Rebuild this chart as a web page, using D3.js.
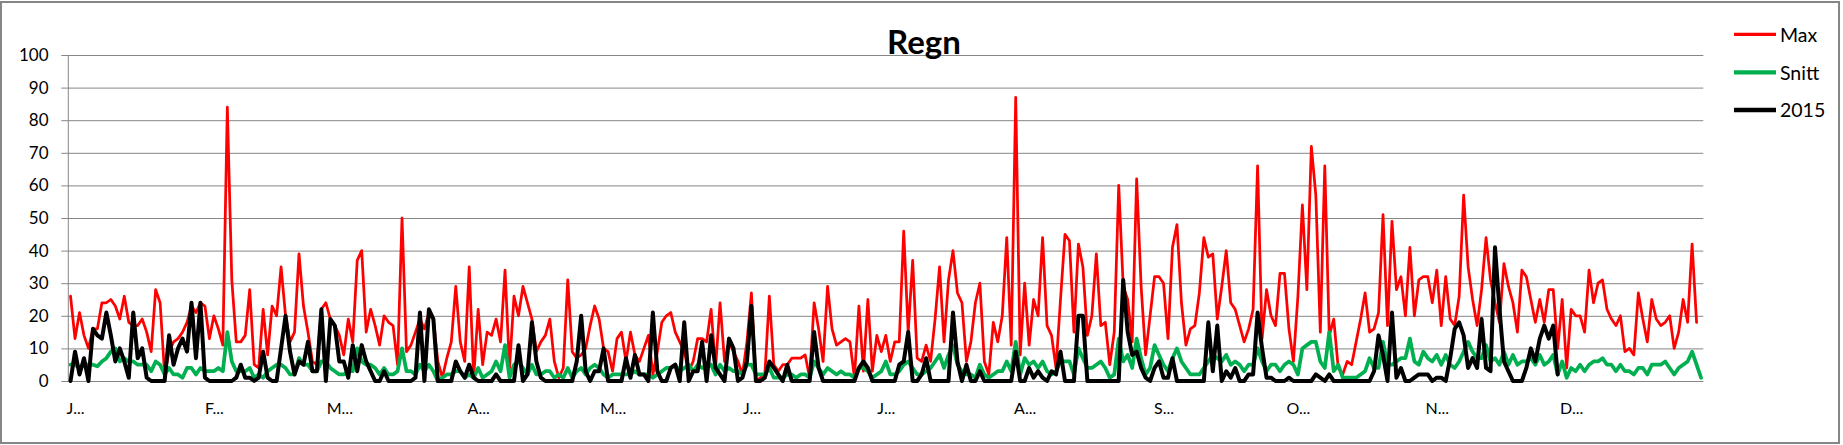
<!DOCTYPE html>
<html><head><meta charset="utf-8">
<script src="https://cdn.jsdelivr.net/npm/d3@7"></script>
<style>
html,body{margin:0;padding:0;background:#fff;}
svg{display:block;font-family:Lato,"Open Sans",sans-serif;}
</style>
</head><body>
<svg id="chart" width="1843" height="445"></svg>
<script>
const chartTitle = "Regn";
const seriesNames = ["Max", "Snitt", "2015"];
const seriesColors = ["#FF0000", "#00B050", "#000000"];
const monthLabels = ["J...","F...","M...","A...","M...","J...","J...","A...","S...","O...","N...","D..."];
const monthStarts = [0,31,59,90,120,151,181,212,243,273,304,334];
const yTicks = [0,10,20,30,40,50,60,70,80,90,100];

const maxValues = [
26,13,21,14,10,16,16,24,24,25, 23,19,26,18,17,17,19,15,9,28,
24,2,9,12,13,15,18,23,21,24, 23,13,20,16,11,84,31,12,12,14,
28,5,4,22,8,23,20,35,20,12, 15,39,23,15,6,5,22,24,19,17,
14,8,19,12,37,40,15,22,17,11, 20,18,17,5,50,9,11,15,19,16,
21,19,6,1,7,12,29,12,6,35, 1,22,5,15,14,19,12,34,4,26,
20,29,24,19,9,12,14,19,6,1, 4,31,9,7,8,10,17,23,19,10,
9,3,13,15,6,15,8,6,10,14, 2,9,18,20,21,15,12,9,3,6,
13,13,12,22,4,24,6,12,9,6, 2,12,27,0,1,2,26,5,3,5,
5,7,7,7,8,1,24,16,6,29, 16,11,12,13,12,1,23,3,25,3,
14,9,14,6,12,12,46,15,37,7, 6,11,6,19,35,12,31,40,27,24,
6,12,24,30,6,2,18,12,20,44, 11,87,8,30,11,25,20,44,17,14,
4,25,45,43,15,42,35,14,20,39, 17,18,5,15,60,29,25,12,62,29,
8,20,32,32,30,13,41,48,24,11, 16,17,27,44,38,39,19,29,40,24,
22,17,12,16,22,66,13,28,20,17, 33,33,16,6,26,54,28,72,57,15,
66,14,19,4,2,6,5,12,19,27, 15,16,21,51,17,49,28,32,20,41,
20,31,32,32,24,34,17,32,19,17, 26,57,35,25,17,28,44,31,24,18,
36,29,24,15,34,32,25,18,25,18, 28,28,10,25,4,22,20,20,15,34,
24,30,31,22,19,17,20,9,10,8, 27,19,12,25,19,17,18,20,10,15,
25,18,42,18,null
];

const snittValues = [
5,5,4,5,5,5,4.5,6,7,9, 10,6,7,6,6,5,5,5,3,6,
5,2,4,2,2,1,4,4,2,4, 3,3,3,4,3,15,6,3,3,3,
4,1,2,1,3,4,5,5,4,2, 2,7,5,5,3,3,6,6,4,3,
2,2,3,3,10,6,5,5,4,2, 4,2,2,3,10,3,3,2,5,3,
5,3,0,1,2,2,3,3,1,2, 1,4,1,2,3,6,3,11,1,5,
6,4,2,5,2,2,3,3,1,2, 1,4,1,3,4,2,4,5,4,2,
1,2,2,2,2,2,3,2,2,2, 1,2,3,4,4,5,3,4,5,3,
5,4,5,5,2,5,3,4,3,3, 2,5,5,2,2,2,4,1,1,1,
2,2,1,2,2,1,6,4,2,4, 3,2,3,2,2,1,4,4,3,1,
2,3,6,2,2,3,5,6,4,2, 2,3,4,6,8,4,8,11,5,3,
2,2,1,5,2,1,2,3,3,6, 3,12,2,7,5,6,4,6,3,2,
3,6,6,6,2,10,7,4,4,5, 6,4,1,2,13,6,8,4,13,7,
2,4,11,8,5,3,7,10,6,4, 2,2,2,4,6,8,7,6,8,5,
6,5,3,5,5,10,6,3,5,5, 3,5,6,5,2,10,11,12,12,6,
4,15,3,5,1,1,1,1,2,3, 7,4,4,12,5,5,6,7,7,13,
6,5,9,7,6,8,5,8,5,4, 6,9,12,9,7,7,11,6,7,5,
9,5,8,5,6,6,7,5,8,5, 6,8,2,6,1,4,3,5,3,5,
6,6,7,5,5,3,5,3,3,2, 4,4,2,5,5,5,6,4,2,4,
5,6,9,5,1
];

const values2015 = [
0,9,2,7,0,16,14,13,21,14, 6,10,6,1,21,7,10,1,0,0,
0,0,14,5,10,13,9,24,7,24, 1,0,0,0,0,0,0,1,5,1,
1,0,1,9,1,0,0,10,20,9, 2,6,5,12,3,3,22,0,19,17,
6,6,1,11,3,11,6,3,0,0, 3,0,0,0,0,0,0,1,21,0,
22,19,0,0,0,0,6,3,1,5, 1,0,0,0,0,2,0,0,0,0,
11,0,2,18,6,1,0,0,0,0, 0,0,0,6,20,3,0,3,3,10,
0,0,0,0,7,1,8,2,2,0, 21,3,0,0,4,5,0,18,0,3,
3,12,0,14,4,2,0,13,10,0, 1,6,23,0,0,1,6,4,2,0,
5,0,0,0,0,0,15,4,0,0, 0,0,0,0,0,0,4,6,4,0,
0,0,0,0,0,5,6,15,0,0, 2,7,0,0,0,0,0,21,6,0,
5,0,0,3,0,0,0,0,0,0, 0,9,0,0,4,1,3,1,0,3,
2,9,0,0,0,20,20,0,0,0, 0,0,0,0,0,31,15,8,9,4,
1,0,4,6,1,1,7,0,0,0, 0,0,0,0,18,3,17,0,3,1,
4,0,0,2,2,21,10,1,1,0, 0,0,1,0,0,0,0,0,2,1,
0,2,0,0,0,0,0,0,0,0, 0,3,14,8,0,21,1,4,0,0,
1,2,2,2,0,1,1,0,7,16, 18,14,4,7,4,19,4,3,41,22,
6,3,0,0,0,4,10,6,13,17, 13,17,2
];

const allSeries = [maxValues, snittValues, values2015];
const lineWidths = [2.75, 3.75, 4];

const W = 1843, H = 445;
const plot = {left: 68.3, right: 1703.3, top: 55, bottom: 381};
const svg = d3.select("#chart");

svg.append("rect").attr("x", 1).attr("y", 2).attr("width", W - 5).attr("height", H - 4)
  .attr("fill", "#fff").attr("stroke", "#868686").attr("stroke-width", 2);

const days = d3.range(snittValues.length);
const x = d3.scaleBand().domain(days).range([plot.left, plot.right]);
const xc = i => x(i) + x.bandwidth() / 2;
const y = d3.scaleLinear().domain([0, 100]).range([plot.bottom, plot.top]);

// gridlines
const gGrid = svg.append("g").attr("transform", `translate(${plot.left - 7},0)`)
  .call(d3.axisRight(y).tickValues(yTicks).tickSize(plot.right - plot.left + 7).tickFormat(""));
gGrid.select(".domain").remove();
gGrid.selectAll("line").attr("stroke", "#868686").attr("stroke-width", 1);

// y axis line
svg.append("line").attr("x1", plot.left).attr("x2", plot.left)
  .attr("y1", plot.top).attr("y2", plot.bottom).attr("stroke", "#868686");

// y labels
const gY = svg.append("g").attr("transform", `translate(48.5,0)`)
  .call(d3.axisLeft(y).tickValues(yTicks).tickSize(0).tickPadding(0));
gY.select(".domain").remove();
gY.selectAll("text").attr("font-size", 17).attr("fill", "#000").attr("font-family", "Lato");

// x labels
const gX = svg.append("g").attr("transform", `translate(5,${plot.bottom})`)
  .call(d3.axisBottom(x).tickValues(monthStarts).tickFormat((d, i) => monthLabels[i]).tickSize(0).tickPadding(22));
gX.select(".domain").remove();
gX.selectAll("text").attr("font-size", 16).attr("fill", "#000").attr("font-family", "Lato");

// lines
const line = d3.line().defined(d => d != null).x((d, i) => xc(i)).y(d => y(d));
allSeries.forEach((vals, k) => {
  svg.append("path").datum(vals).attr("d", line)
    .attr("fill", "none").attr("stroke", seriesColors[k]).attr("stroke-width", lineWidths[k])
    .attr("stroke-linejoin", "round").attr("stroke-linecap", "round");
});

// title
svg.append("text").attr("x", 924).attr("y", 54).attr("text-anchor", "middle")
  .attr("font-size", 33).attr("font-weight", "bold").attr("fill", "#000").text(chartTitle);

// legend
const legY = [34.3, 72.3, 110];
seriesNames.forEach((name, k) => {
  const g = svg.append("g").attr("transform", `translate(0,${legY[k]})`);
  g.append("line").attr("x1", 1734).attr("x2", 1776).attr("y1", 0).attr("y2", 0)
    .attr("stroke", seriesColors[k]).attr("stroke-width", lineWidths[k] + 0.5);
  g.append("text").attr("x", 1780).attr("y", 7.2).attr("font-size", 19.5).attr("fill", "#000").text(name);
});
</script>
</body></html>
